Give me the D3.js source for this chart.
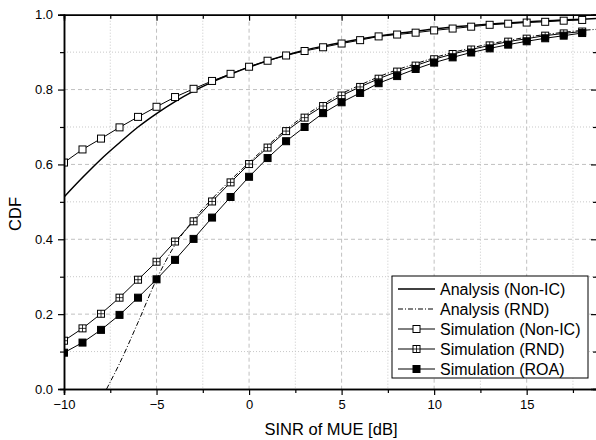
<!DOCTYPE html>
<html>
<head>
<meta charset="utf-8">
<script src="https://cdn.jsdelivr.net/npm/d3@7"></script>
<style>
  body { margin: 0; background: #fff; }
  text { font-family: Arial, "Liberation Sans", sans-serif; }
</style>
</head>
<body>
<div id="chart"></div>
<script>
// simulation points, one per dB
let simX = d3.range(-10, 19);
let simNonIC = [0.605, 0.640, 0.669, 0.699, 0.727, 0.754, 0.780, 0.802, 0.823, 0.842,
    0.861, 0.877, 0.891, 0.903, 0.913, 0.923, 0.932, 0.942, 0.947, 0.952,
    0.958, 0.963, 0.968, 0.973, 0.976, 0.979, 0.981, 0.984, 0.986];
let simRND = [0.129, 0.162, 0.201, 0.244, 0.292, 0.340, 0.394, 0.448, 0.501, 0.552,
    0.601, 0.645, 0.689, 0.725, 0.756, 0.784, 0.807, 0.829, 0.848, 0.864,
    0.881, 0.895, 0.907, 0.918, 0.928, 0.936, 0.944, 0.950, 0.955];
let simROA = [0.097, 0.124, 0.158, 0.198, 0.244, 0.293, 0.345, 0.401, 0.458, 0.513,
    0.567, 0.617, 0.662, 0.700, 0.737, 0.766, 0.791, 0.817, 0.836, 0.855,
    0.872, 0.886, 0.899, 0.910, 0.920, 0.929, 0.937, 0.944, 0.951];

// analysis curves
let anaNonIC_x = [-10, -9, -8, -7, -6, -5, -4, -3, -2, -1, 0, 1, 2, 3, 4, 5, 6, 7, 8, 9,
    10, 11, 12, 13, 14, 15, 16, 17, 18, 18.8];
let anaNonIC_y = [0.513, 0.565, 0.614, 0.658, 0.700, 0.736, 0.768, 0.796, 0.820, 0.841,
    0.860, 0.877, 0.892, 0.905, 0.916, 0.926, 0.935, 0.943, 0.950, 0.956,
    0.962, 0.967, 0.971, 0.975, 0.978, 0.981, 0.984, 0.986, 0.988, 0.990];
let anaRND_x = [-7.7, -7, -6, -5, -4, -3, -2, -1, 0, 1, 2, 3, 4, 5, 6, 7, 8, 9,
    10, 11, 12, 13, 14, 15, 16, 17, 18, 18.8];
let anaRND_y = [0.0, 0.068, 0.178, 0.293, 0.385, 0.452, 0.508, 0.558, 0.605, 0.650,
    0.693, 0.730, 0.761, 0.789, 0.812, 0.834, 0.853, 0.869, 0.885, 0.899,
    0.911, 0.922, 0.931, 0.940, 0.947, 0.953, 0.958, 0.961];

let xMajor = [-10, -5, 0, 5, 10, 15];
let xMinor = [-7.5, -2.5, 2.5, 7.5, 12.5, 17.5];
let yMajor = [0, 0.2, 0.4, 0.6, 0.8, 1.0];
let yMinor = [0.1, 0.3, 0.5, 0.7, 0.9];

let legendNames = ["Analysis (Non-IC)", "Analysis (RND)", "Simulation (Non-IC)",
    "Simulation (RND)", "Simulation (ROA)"];

let width = 596, height = 440;
let mLeft = 64, mTop = 14.7, mRight = 597, mBottom = 389;

let svg = d3.select("#chart").append("svg")
    .attr("width", width)
    .attr("height", height);

let x = d3.scaleLinear().domain([-10, 18.8]).range([mLeft, mRight]);
let y = d3.scaleLinear().domain([0, 1]).range([mBottom, mTop]);

// grid
let grid = svg.append("g");
grid.selectAll(".gxm").data(xMinor).enter().append("line")
    .attr("x1", d => x(d)).attr("x2", d => x(d))
    .attr("y1", mTop).attr("y2", mBottom)
    .attr("stroke", "#c8c8c8").attr("stroke-dasharray", "1,2");
grid.selectAll(".gym").data(yMinor).enter().append("line")
    .attr("x1", mLeft).attr("x2", mRight)
    .attr("y1", d => y(d)).attr("y2", d => y(d))
    .attr("stroke", "#c8c8c8").attr("stroke-dasharray", "1,2");
grid.selectAll(".gx").data(xMajor.slice(1)).enter().append("line")
    .attr("x1", d => x(d)).attr("x2", d => x(d))
    .attr("y1", mTop).attr("y2", mBottom)
    .attr("stroke", "#c0c0c0").attr("stroke-dasharray", "4,3");
grid.selectAll(".gy").data(yMajor.slice(1, 5)).enter().append("line")
    .attr("x1", mLeft).attr("x2", mRight)
    .attr("y1", d => y(d)).attr("y2", d => y(d))
    .attr("stroke", "#c0c0c0").attr("stroke-dasharray", "4,3");

// curves
svg.append("clipPath").attr("id", "clip").append("rect")
    .attr("x", mLeft).attr("y", mTop).attr("width", mRight - mLeft).attr("height", mBottom - mTop);
let plot = svg.append("g").attr("clip-path", "url(#clip)");

let line = d3.line().x(d => x(d[0])).y(d => y(d[1])).curve(d3.curveMonotoneX);

plot.append("path")
    .datum(anaNonIC_x.map((v, i) => [v, anaNonIC_y[i]]))
    .attr("d", line).attr("fill", "none").attr("stroke", "#000").attr("stroke-width", 1.5);
plot.append("path")
    .datum(anaRND_x.map((v, i) => [v, anaRND_y[i]]))
    .attr("d", line).attr("fill", "none").attr("stroke", "#000").attr("stroke-width", 1)
    .attr("stroke-dasharray", "5,2,1,2");

let series = [
    {vals: simNonIC, kind: "open"},
    {vals: simRND, kind: "cross"},
    {vals: simROA, kind: "filled"}
];
let ms = 7;

function drawMarker(g, kind, cx, cy) {
    g.append("rect")
        .attr("x", cx - ms / 2).attr("y", cy - ms / 2)
        .attr("width", ms).attr("height", ms)
        .attr("fill", kind === "filled" ? "#000" : "#fff")
        .attr("stroke", "#000").attr("stroke-width", 1);
    if (kind === "cross") {
        g.append("line").attr("x1", cx - ms / 2).attr("x2", cx + ms / 2)
            .attr("y1", cy).attr("y2", cy).attr("stroke", "#000").attr("stroke-width", 0.8);
        g.append("line").attr("x1", cx).attr("x2", cx)
            .attr("y1", cy - ms / 2).attr("y2", cy + ms / 2).attr("stroke", "#000").attr("stroke-width", 0.8);
    }
}

series.forEach(function(s) {
    let pts = simX.map((v, i) => [v, s.vals[i]]);
    plot.append("path").datum(pts)
        .attr("d", d3.line().x(d => x(d[0])).y(d => y(d[1])))
        .attr("fill", "none").attr("stroke", "#000").attr("stroke-width", 1);
    let mg = plot.append("g");
    pts.forEach(p => drawMarker(mg, s.kind, x(p[0]), y(p[1])));
});

// axes
let axes = svg.append("g");

axes.append("g").attr("transform", "translate(0," + mBottom + ")")
    .call(d3.axisBottom(x).tickValues(xMinor).tickSize(4).tickFormat(""));
axes.append("g").attr("transform", "translate(0," + mBottom + ")")
    .call(d3.axisBottom(x).tickValues(xMajor).tickSize(6).tickPadding(5).tickFormat(d3.format("d")));
axes.append("g").attr("transform", "translate(0," + mTop + ")")
    .call(d3.axisBottom(x).tickValues(xMinor).tickSize(4).tickFormat(""));
axes.append("g").attr("transform", "translate(0," + mTop + ")")
    .call(d3.axisBottom(x).tickValues(xMajor.slice(1)).tickSize(6).tickFormat(""));

axes.append("g").attr("transform", "translate(" + mLeft + ",0)")
    .call(d3.axisLeft(y).tickValues(yMinor).tickSize(4).tickFormat(""));
axes.append("g").attr("transform", "translate(" + mLeft + ",0)")
    .call(d3.axisLeft(y).tickValues(yMajor).tickSize(6).tickPadding(5).tickFormat(d3.format(".1f")));
axes.append("g").attr("transform", "translate(" + mRight + ",0)")
    .call(d3.axisLeft(y).tickValues(yMinor).tickSize(4).tickFormat(""));
axes.append("g").attr("transform", "translate(" + mRight + ",0)")
    .call(d3.axisLeft(y).tickValues(yMajor.slice(1, 5)).tickSize(6).tickFormat(""));

axes.selectAll("g").attr("font-size", 13)
    .attr("font-family", "Arial, 'Liberation Sans', sans-serif");
axes.selectAll(".domain").attr("stroke", "#000").attr("stroke-width", 1.5);
axes.selectAll(".tick line").attr("stroke", "#000").attr("stroke-width", 1.2);
axes.selectAll(".tick text").attr("fill", "#000");

// titles
svg.append("text")
    .attr("x", 331).attr("y", 435)
    .attr("text-anchor", "middle")
    .style("font-size", "16.5px")
    .text("SINR of MUE [dB]");
svg.append("text")
    .attr("transform", "translate(21,214) rotate(-90)")
    .attr("text-anchor", "middle")
    .style("font-size", "16.5px")
    .text("CDF");

// legend
let lg = svg.append("g");
lg.append("rect")
    .attr("x", 392).attr("y", 276).attr("width", 196).attr("height", 102)
    .attr("fill", "#fff").attr("stroke", "#000").attr("stroke-width", 1);

let legendKinds = ["solid", "dashdot", "open", "cross", "filled"];
legendNames.forEach(function(name, i) {
    let ly = 289 + i * 20;
    let ln = lg.append("line")
        .attr("x1", 398).attr("x2", 435).attr("y1", ly).attr("y2", ly)
        .attr("stroke", "#000")
        .attr("stroke-width", i === 0 ? 1.5 : 1);
    if (i === 1) ln.attr("stroke-dasharray", "5,2,1,2");
    if (i >= 2) drawMarker(lg, legendKinds[i], 416.5, ly);
    lg.append("text")
        .attr("x", 440).attr("y", ly + 5.5)
        .style("font-size", "16px")
        .text(name);
});
</script>
</body>
</html>
